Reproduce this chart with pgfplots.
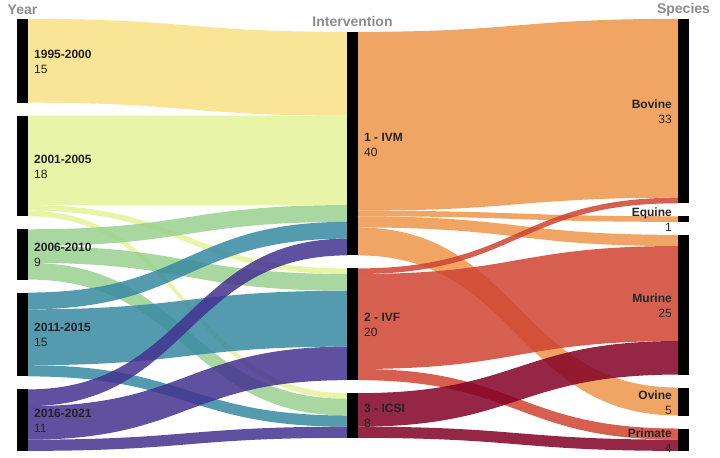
\documentclass[border=0pt]{standalone}
\usepackage{pgfplots}
\pgfplotsset{compat=1.18}
\usepackage{fontspec}
\setmainfont{Liberation Sans}

\definecolor{cA}{RGB}{249,223,131}
\definecolor{cB}{RGB}{228,243,153}
\definecolor{cC}{RGB}{153,209,143}
\definecolor{cD}{RGB}{55,137,161}
\definecolor{cE}{RGB}{67,49,143}
\definecolor{cIVM}{RGB}{237,149,73}
\definecolor{cIVF}{RGB}{208,67,49}
\definecolor{cICSI}{RGB}{131,0,37}
\definecolor{ttl}{RGB}{140,140,140}
\definecolor{lbl}{RGB}{35,35,35}

% px per record
\newcommand{\kk}{5.5882}
% \flow{x0}{x1}{srcTop}{srcOff}{tgtTop}{tgtOff}{value}{colour}
\newcommand{\flow}[8]{%
  \fill[#8, fill opacity=0.85]
    (axis cs:#1,{#3+#4*\kk})
    .. controls (axis cs:{(#1+#2)/2},{#3+#4*\kk}) and (axis cs:{(#1+#2)/2},{#5+#6*\kk}) ..
    (axis cs:#2,{#5+#6*\kk})
    -- (axis cs:#2,{#5+(#6+#7)*\kk})
    .. controls (axis cs:{(#1+#2)/2},{#5+(#6+#7)*\kk}) and (axis cs:{(#1+#2)/2},{#3+(#4+#7)*\kk}) ..
    (axis cs:#1,{#3+(#4+#7)*\kk}) -- cycle;}
% \bar{x}{top}{value}
\newcommand{\nbar}[3]{\fill[black] (axis cs:#1,#2) rectangle (axis cs:{#1+11},{#2+#3*\kk});}

\begin{document}
\begin{tikzpicture}
\begin{axis}[width=720pt,height=457pt,scale only axis,hide axis,
  xmin=0,xmax=720,ymin=0,ymax=457,y dir=reverse,clip=false]
\path (axis cs:0,0) rectangle (axis cs:720,457);
% node tops: year 18,114.82,228.41,291.71,388.53 ; intervention 31,267.53,392.29 ; species 18,215.41,234.0,386.7,427.65
% year -> intervention
\flow{28}{347}{18}{0}{31}{0}{15}{cA}
\flow{28}{347}{114.82}{0}{31}{15}{16}{cB}
\flow{28}{347}{114.82}{16}{267.53}{0}{1}{cB}
\flow{28}{347}{114.82}{17}{392.29}{0}{1}{cB}
\flow{28}{347}{228.41}{0}{31}{31}{3}{cC}
\flow{28}{347}{228.41}{3}{267.53}{1}{3}{cC}
\flow{28}{347}{228.41}{6}{392.29}{1}{3}{cC}
\flow{28}{347}{291.71}{0}{31}{34}{3}{cD}
\flow{28}{347}{291.71}{3}{267.53}{4}{10}{cD}
\flow{28}{347}{291.71}{13}{392.29}{4}{2}{cD}
\flow{28}{347}{388.53}{0}{31}{37}{3}{cE}
\flow{28}{347}{388.53}{3}{267.53}{14}{6}{cE}
\flow{28}{347}{388.53}{9}{392.29}{6}{2}{cE}
% intervention -> species
\flow{358}{678}{31}{0}{18}{0}{32}{cIVM}
\flow{358}{678}{31}{32}{215.41}{0}{1}{cIVM}
\flow{358}{678}{31}{33}{234.0}{0}{2}{cIVM}
\flow{358}{678}{31}{35}{386.7}{0}{5}{cIVM}
\flow{358}{678}{267.53}{0}{18}{32}{1}{cIVF}
\flow{358}{678}{267.53}{1}{234.0}{2}{17}{cIVF}
\flow{358}{678}{267.53}{18}{427.65}{0}{2}{cIVF}
\flow{358}{678}{392.29}{0}{234.0}{19}{6}{cICSI}
\flow{358}{678}{392.29}{6}{427.65}{2}{2}{cICSI}
% node bars
\nbar{17}{18}{15}
\nbar{17}{114.82}{18}
\nbar{17}{228.41}{9}
\nbar{17}{291.71}{15}
\nbar{17}{388.53}{11}
\nbar{347}{31}{40}
\nbar{347}{267.53}{20}
\nbar{347}{392.29}{8}
\nbar{678}{18}{33}
\nbar{678}{215.41}{1}
\nbar{678}{234.0}{25}
\nbar{678}{386.7}{5}
\nbar{678}{427.65}{4}
% column titles
\node[font=\fontsize{14}{16}\selectfont\bfseries,text=ttl] at (axis cs:22.5,9) {Year};
\node[font=\fontsize{14}{16}\selectfont\bfseries,text=ttl] at (axis cs:352.5,21) {Intervention};
\node[font=\fontsize{14}{16}\selectfont\bfseries,text=ttl] at (axis cs:683.5,9) {Species};
% node labels
\tikzset{lab/.style={font=\fontsize{12}{15}\selectfont,text=lbl,align=left,inner sep=0pt}}
\node[lab,anchor=west] at (axis cs:34,61) {\textbf{1995-2000}\\15};
\node[lab,anchor=west] at (axis cs:34,166) {\textbf{2001-2005}\\18};
\node[lab,anchor=west] at (axis cs:34,254) {\textbf{2006-2010}\\9};
\node[lab,anchor=west] at (axis cs:34,334) {\textbf{2011-2015}\\15};
\node[lab,anchor=west] at (axis cs:34,420) {\textbf{2016-2021}\\11};
\node[lab,anchor=west] at (axis cs:364,144) {\textbf{1 - IVM}\\40};
\node[lab,anchor=west] at (axis cs:364,324) {\textbf{2 - IVF}\\20};
\node[lab,anchor=west] at (axis cs:364,415) {\textbf{3 - ICSI}\\8};
\node[lab,anchor=east,align=right] at (axis cs:672,111) {\textbf{Bovine}\\33};
\node[lab,anchor=east,align=right] at (axis cs:672,219) {\textbf{Equine}\\1};
\node[lab,anchor=east,align=right] at (axis cs:672,305) {\textbf{Murine}\\25};
\node[lab,anchor=east,align=right] at (axis cs:672,402) {\textbf{Ovine}\\5};
\node[lab,anchor=east,align=right] at (axis cs:672,440) {\textbf{Primate}\\4};
\end{axis}
\end{tikzpicture}
\end{document}
